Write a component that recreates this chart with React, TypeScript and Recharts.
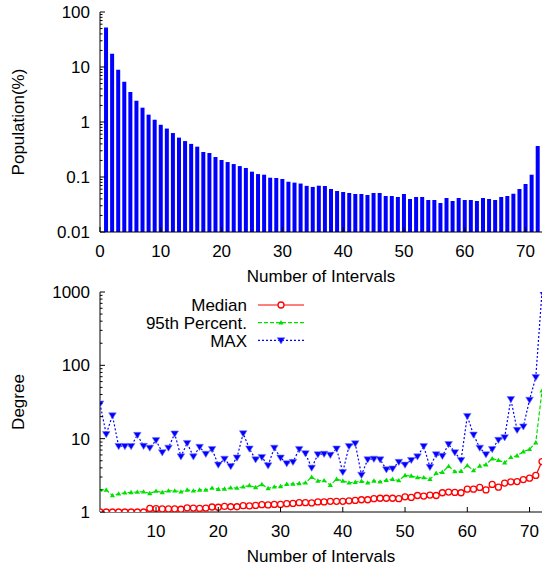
import React from 'react';
import { BarChart, Bar, LineChart, Line, XAxis, YAxis, Legend, Label } from 'recharts';

const intervals = [
  1, 2, 3, 4, 5, 6, 7, 8, 9, 10, 11, 12, 13, 14, 15, 16, 17, 18, 19, 20, 21, 22, 23, 24,
  25, 26, 27, 28, 29, 30, 31, 32, 33, 34, 35, 36, 37, 38, 39, 40, 41, 42, 43, 44, 45, 46, 47, 48,
  49, 50, 51, 52, 53, 54, 55, 56, 57, 58, 59, 60, 61, 62, 63, 64, 65, 66, 67, 68, 69, 70, 71, 72,
];

// Population(%) per number of intervals
const population = [
  52, 17.5, 8.9, 5.4, 3.5, 2.44, 1.82, 1.36, 1.1, 0.89, 0.76, 0.63,
  0.52, 0.45, 0.4, 0.356, 0.285, 0.273, 0.231, 0.204, 0.187, 0.172, 0.158, 0.146,
  0.125, 0.113, 0.11, 0.097, 0.096, 0.092, 0.082, 0.079, 0.076, 0.069, 0.066, 0.0695,
  0.0686, 0.0605, 0.0556, 0.0534, 0.0512, 0.0491, 0.0491, 0.0471, 0.0512, 0.0512, 0.0451, 0.0451,
  0.0433, 0.0491, 0.0398, 0.0433, 0.0433, 0.0382, 0.0382, 0.0337, 0.0415, 0.0366, 0.0415, 0.0382,
  0.0382, 0.0366, 0.0415, 0.0398, 0.0382, 0.0433, 0.0451, 0.0497, 0.0605, 0.0746, 0.11, 0.366,
];

// Degree series
const median = [
  1, 1, 1, 1, 1, 1, 1, 1, 1.12, 1.11, 1.1, 1.1,
  1.1, 1.09, 1.14, 1.13, 1.12, 1.13, 1.17, 1.16, 1.19, 1.18, 1.18, 1.22,
  1.21, 1.23, 1.26, 1.25, 1.27, 1.27, 1.3, 1.31, 1.34, 1.34, 1.33, 1.37,
  1.37, 1.4, 1.4, 1.4, 1.42, 1.44, 1.47, 1.47, 1.52, 1.54, 1.54, 1.54,
  1.52, 1.61, 1.58, 1.68, 1.65, 1.7, 1.68, 1.83, 1.87, 1.85, 1.83, 2.05,
  2.05, 2.16, 2.0, 2.38, 2.18, 2.48, 2.58, 2.6, 2.77, 2.89, 3.15, 4.87,
];

const pct95 = [
  2.0, 2.0, 1.68, 1.77, 1.83, 1.85, 1.87, 1.89, 1.79, 1.93, 1.85, 1.95,
  1.95, 1.89, 2.0, 1.95, 2.0, 2.0, 2.12, 2.05, 2.07, 2.14, 2.12, 2.21,
  2.3, 2.16, 2.38, 2.1, 2.21, 2.23, 2.4, 2.42, 2.45, 2.5, 2.99, 2.66,
  2.69, 2.32, 2.8, 2.66, 2.5, 2.55, 2.63, 2.5, 2.66, 2.58, 2.72, 2.8,
  2.69, 3.15, 3.1, 2.95, 2.95, 2.8, 3.38, 3.5, 4.2, 3.56, 3.6, 4.3,
  3.68, 4.25, 4.43, 5.35, 5.08, 4.72, 5.58, 5.87, 6.66, 7.16, 8.83, 45,
];

const maxDegree = [
  30, 11.5, 20.7, 7.9, 7.9, 7.9, 11.2, 7.95, 7.5, 9.5, 6.5, 7.5,
  11.7, 5.7, 8.7, 5.7, 7.7, 6.2, 7.2, 4.4, 5.3, 4.2, 5.5, 11.8,
  7.3, 5.2, 5.6, 4.3, 7.5, 5.5, 4.6, 4.8, 7.2, 6.3, 4.0, 6.1,
  6.2, 6.0, 7.3, 3.5, 7.9, 8.6, 3.2, 5.2, 5.3, 5.2, 3.8, 3.9,
  4.8, 4.4, 5.1, 5.7, 7.9, 4.1, 6.1, 5.8, 8.4, 6.5, 5.1, 20.3,
  11.3, 7.5, 6.1, 7.2, 9.6, 10.4, 34.5, 13.1, 14.6, 33.8, 68.7, 1000,
];

const popMajorTicks = [0.01, 0.1, 1, 10, 100];
const degMajorTicks = [1, 10, 100, 1000];
const topXTicks = [0, 10, 20, 30, 40, 50, 60, 70];
const bottomXTicks = [10, 20, 30, 40, 50, 60, 70];
const minorSteps = [2, 3, 4, 5, 6, 7, 8, 9];

const withMinor = (majors: number[]) =>
  majors.flatMap((m, i) => (i === majors.length - 1 ? [m] : [m, ...minorSteps.map((k) => m * k)]));

const popData = intervals.map((x, i) => ({ x, pop: population[i] }));
const degData = intervals.map((x, i) => ({
  x,
  median: median[i],
  pct95: pct95[i],
  max: maxDegree[i],
}));

const FONT = '"Liberation Sans", Arial, Helvetica, sans-serif';
const FS = 17;
const RED = '#ff0000';
const GREEN = '#00e000';
const BLUE = '#0000ff';

type Side = 'left' | 'right' | 'bottom' | 'top';

const makeTick = (side: Side, majors: number[] | null, labels: boolean) => (props: any) => {
  const { x, y, payload } = props;
  const v = payload.value;
  const major = majors ? majors.includes(v) : true;
  const len = major ? 5 : 2.5;
  const txt = labels && major ? String(v) : null;
  if (side === 'left') {
    const ax = x + 10;
    return (
      <g>
        <line x1={ax} x2={ax + len} y1={y} y2={y} stroke="#000" />
        {txt && (
          <text x={x} y={y} dy="0.36em" textAnchor="end" fontSize={FS} fontFamily={FONT} fill="#000">
            {txt}
          </text>
        )}
      </g>
    );
  }
  if (side === 'right') {
    return <line x1={x} x2={x - len} y1={y} y2={y} stroke="#000" />;
  }
  if (side === 'top') {
    return <line x1={x} x2={x} y1={y} y2={y + len} stroke="#000" />;
  }
  const ay = y - 13;
  return (
    <g>
      <line x1={x} x2={x} y1={ay} y2={ay - len} stroke="#000" />
      {txt && (
        <text x={x} y={y} dy="0.71em" textAnchor="middle" fontSize={FS} fontFamily={FONT} fill="#000">
          {txt}
        </text>
      )}
    </g>
  );
};

const xTitle = (props: any) => {
  const { x, y, width } = props.viewBox;
  return (
    <text x={x + width / 2} y={y + 50} textAnchor="middle" fontSize={FS} fontFamily={FONT} fill="#000">
      Number of Intervals
    </text>
  );
};

const yTitle = (text: string) => (props: any) => {
  const { y, height } = props.viewBox;
  const cy = y + height / 2;
  return (
    <text
      x={24}
      y={cy}
      transform={`rotate(-90 24 ${cy})`}
      textAnchor="middle"
      fontSize={FS}
      fontFamily={FONT}
      fill="#000"
    >
      {text}
    </text>
  );
};

const CircleDot = ({ cx, cy }: any) =>
  cx == null ? null : <circle cx={cx} cy={cy} r={3} fill="#fff" stroke={RED} strokeWidth={1.3} />;

const UpTri = ({ cx, cy }: any) =>
  cx == null ? null : (
    <path d={`M${cx},${cy - 2.6}L${cx + 2.6},${cy + 1.8}L${cx - 2.6},${cy + 1.8}Z`} fill={GREEN} />
  );

const DownTri = ({ cx, cy }: any) =>
  cx == null ? null : (
    <path
      d={`M${cx - 3.8},${cy - 2.7}L${cx + 3.8},${cy - 2.7}L${cx},${cy + 3.5}Z`}
      fill={BLUE}
      stroke="#7777ff"
      strokeWidth={0.6}
    />
  );

const series = [
  { key: 'median', name: 'Median', color: RED, dash: undefined as string | undefined, Dot: CircleDot },
  { key: 'pct95', name: '95th Percent.', color: GREEN, dash: '4 2', Dot: UpTri },
  { key: 'max', name: 'MAX', color: BLUE, dash: '2 2', Dot: DownTri },
];

const renderLegend = () => (
  <svg width={320} height={75} style={{ display: 'block' }}>
    {series.map((s, i) => {
      const y = 25 + i * 17.7;
      return (
        <g key={s.key}>
          <text x={247} y={y} dy="0.36em" textAnchor="end" fontSize={FS} fontFamily={FONT} fill="#000">
            {s.name}
          </text>
          <line x1={258} x2={304} y1={y} y2={y} stroke={s.color} strokeWidth={1.2} strokeDasharray={s.dash} />
          <s.Dot cx={281} cy={y} />
        </g>
      );
    })}
  </svg>
);

export default function App() {
  return (
    <div style={{ position: 'absolute', left: 0, top: 0, width: 544, height: 568, fontFamily: FONT }}>
      <div style={{ position: 'absolute', left: 0, top: 0 }}>
        <BarChart
          width={544}
          height={290}
          data={popData}
          margin={{ top: 12, right: 2, bottom: 0, left: 0 }}
          barSize={4}
        >
          <XAxis
            xAxisId="b"
            dataKey="x"
            type="number"
            domain={[0, 72.7]}
            allowDataOverflow
            ticks={topXTicks}
            interval={0}
            height={58}
            tickSize={0}
            tickMargin={13}
            tickLine={false}
            axisLine={{ stroke: '#000' }}
            tick={makeTick('bottom', null, true)}
          >
            <Label content={xTitle} />
          </XAxis>
          <XAxis
            xAxisId="t"
            orientation="top"
            type="number"
            domain={[0, 72.7]}
            allowDataOverflow
            ticks={topXTicks}
            interval={0}
            height={0}
            tickSize={0}
            tickMargin={0}
            tickLine={false}
            axisLine={{ stroke: '#000' }}
            tick={makeTick('top', null, false)}
          />
          <YAxis
            yAxisId="l"
            type="number"
            scale="log"
            domain={[0.01, 100]}
            allowDataOverflow
            ticks={withMinor(popMajorTicks)}
            interval={0}
            width={100}
            tickSize={0}
            tickMargin={10}
            tickLine={false}
            axisLine={{ stroke: '#000' }}
            tick={makeTick('left', popMajorTicks, true)}
          >
            <Label content={yTitle('Population(%)')} />
          </YAxis>
          <YAxis
            yAxisId="r"
            orientation="right"
            type="number"
            scale="log"
            domain={[0.01, 100]}
            allowDataOverflow
            ticks={withMinor(popMajorTicks)}
            interval={0}
            width={0}
            tickSize={0}
            tickMargin={0}
            tickLine={false}
            axisLine={{ stroke: '#000' }}
            tick={makeTick('right', popMajorTicks, false)}
          />
          <Bar xAxisId="b" yAxisId="l" dataKey="pop" fill={BLUE} isAnimationActive={false} />
        </BarChart>
      </div>
      <div style={{ position: 'absolute', left: 0, top: 280 }}>
        <LineChart width={544} height={288} data={degData} margin={{ top: 12, right: 2, bottom: 0, left: 0 }}>
          <XAxis
            xAxisId="b"
            dataKey="x"
            type="number"
            domain={[1, 72]}
            allowDataOverflow
            ticks={bottomXTicks}
            interval={0}
            height={56}
            tickSize={0}
            tickMargin={13}
            tickLine={false}
            axisLine={{ stroke: '#000' }}
            tick={makeTick('bottom', null, true)}
          >
            <Label content={xTitle} />
          </XAxis>
          <XAxis
            xAxisId="t"
            orientation="top"
            type="number"
            domain={[1, 72]}
            allowDataOverflow
            ticks={bottomXTicks}
            interval={0}
            height={0}
            tickSize={0}
            tickMargin={0}
            tickLine={false}
            axisLine={{ stroke: '#000' }}
            tick={makeTick('top', null, false)}
          />
          <YAxis
            yAxisId="l"
            type="number"
            scale="log"
            domain={[1, 1000]}
            allowDataOverflow
            ticks={withMinor(degMajorTicks)}
            interval={0}
            width={100}
            tickSize={0}
            tickMargin={10}
            tickLine={false}
            axisLine={{ stroke: '#000' }}
            tick={makeTick('left', degMajorTicks, true)}
          >
            <Label content={yTitle('Degree')} />
          </YAxis>
          <YAxis
            yAxisId="r"
            orientation="right"
            type="number"
            scale="log"
            domain={[1, 1000]}
            allowDataOverflow
            ticks={withMinor(degMajorTicks)}
            interval={0}
            width={0}
            tickSize={0}
            tickMargin={0}
            tickLine={false}
            axisLine={{ stroke: '#000' }}
            tick={makeTick('right', degMajorTicks, false)}
          />
          <Legend
            verticalAlign="middle"
            layout="horizontal"
            wrapperStyle={{ left: 0, top: 0, width: 320, height: 75 }}
            content={renderLegend}
          />
          {series.map((s) => (
            <Line
              key={s.key}
              xAxisId="b"
              yAxisId="l"
              type="linear"
              dataKey={s.key}
              name={s.name}
              stroke={s.color}
              strokeWidth={1.2}
              strokeDasharray={s.dash}
              dot={(p: any) => <s.Dot key={`${s.key}-${p.index}`} cx={p.cx} cy={p.cy} />}
              activeDot={false}
              isAnimationActive={false}
            />
          ))}
        </LineChart>
      </div>
    </div>
  );
}
